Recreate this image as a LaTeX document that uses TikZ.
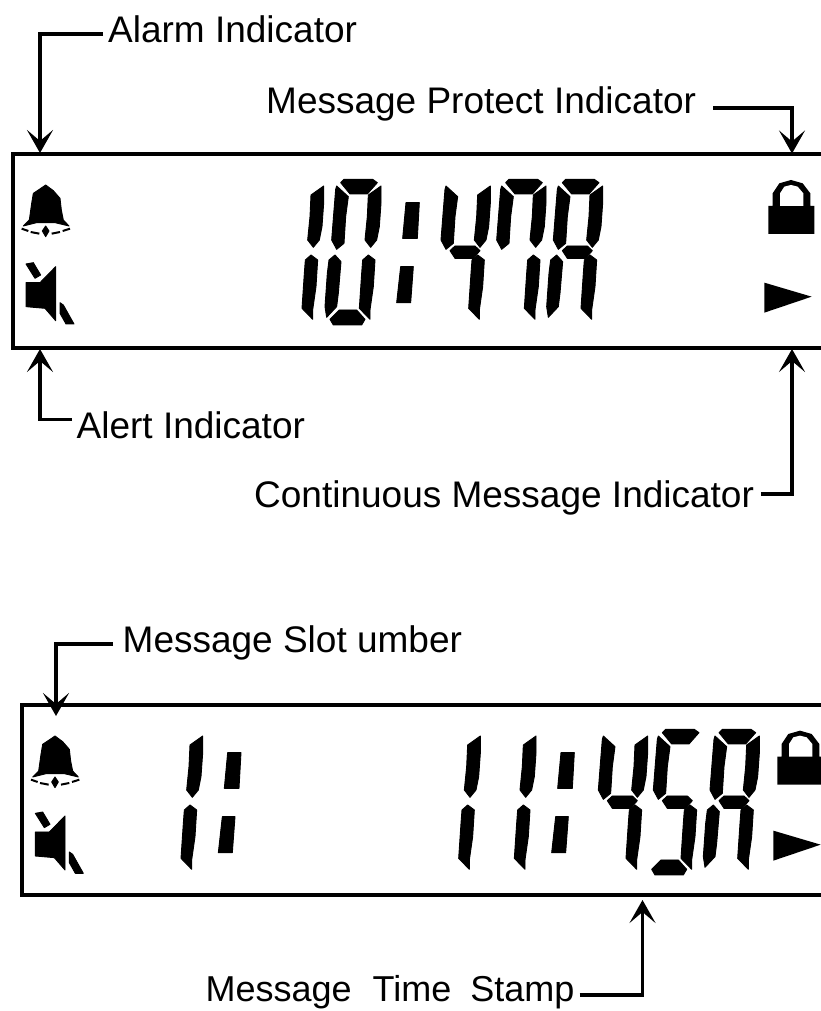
\documentclass[tikz,border=0pt]{standalone}
\usepackage{fontspec}
\setmainfont{Liberation Sans}
\usetikzlibrary{arrows.meta}
\tikzset{
  label text/.style={anchor=base west,inner sep=0pt,font=\fontsize{37}{40}\selectfont},
  conn/.style={line width=3.8pt,-{Stealth[length=23pt,width=26pt,inset=11pt]}},
  frame/.style={line width=4pt},
  lcd/.style={fill=black,draw=black,line width=0.9pt,line join=round}
}
% segment shapes, in units of a third of a pixel, relative to the digit origin
\newcommand\segul[1]{\filldraw[lcd,shift={#1}] (15,78)--(50,110)--(42,170)--(37,250)--(15,268)--(0,240)--(7,150)--(12,88)--cycle;}
\newcommand\segur[1]{\filldraw[lcd,shift={#1}] (148,78)--(148,130)--(143,200)--(135,240)--(117,262)--(100,240)--(107,170)--(110,105)--cycle;}
\newcommand\segtop[1]{\filldraw[lcd,shift={#1}] (27,68)--(37,58)--(123,58)--(137,68)--(107,102)--(55,102)--cycle;}
\newcommand\segmid[1]{\filldraw[lcd,shift={#1}] (27,272)--(42,258)--(102,258)--(117,272)--(97,295)--(42,295)--cycle;}
\newcommand\segll[1]{\filldraw[lcd,shift={#1}] (10,285)--(28,305)--(20,400)--(15,440)--(-15,472)--(-20,440)--(-13,340)--(-8,300)--cycle;}
\newcommand\seglr[1]{\filldraw[lcd,shift={#1}] (110,285)--(130,300)--(125,380)--(115,450)--(115,478)--(83,445)--(90,340)--(93,300)--cycle;}
\newcommand\segbot[1]{\filldraw[lcd,shift={#1}] (-5,478)--(23,450)--(75,450)--(100,478)--(90,495)--(5,495)--cycle;}
\newcommand\segcolon[1]{\filldraw[lcd,shift={#1}] (223,128)--(263,128)--(257,235)--(213,235)--cycle (207,320)--(245,320)--(237,428)--(195,428)--cycle;}
\newcommand\iconbell[1]{\begin{scope}[shift={#1}]
  \filldraw[lcd] (137,75)--(160,92)--(180,115)--(184,150)--(190,180)--(207,198)--(165,188)--(110,188)--(70,198)--(88,180)--(95,130)--(100,100)--(118,88)--cycle;
  \draw[line width=2pt] (65,206)--(85,213) (92,216)--(118,221) (155,221)--(180,216) (188,213)--(210,206);
  \filldraw[lcd] (137,198)--(147,213)--(137,230)--(127,213)--cycle;
\end{scope}}
\newcommand\iconspk[1]{\begin{scope}[shift={#1}]
  \filldraw[lcd] (78,312)--(100,308)--(122,345)--(105,355)--cycle;
  \filldraw[lcd] (78,368)--(120,368)--(167,320)--(167,482)--(135,445)--(78,440)--cycle;
  \filldraw[lcd] (180,428)--(190,435)--(222,492)--(198,492)--(180,460)--cycle;
\end{scope}}
\newcommand\iconlock[1]{\begin{scope}[shift={#1}]
  \fill[black] (142,138)--(155,138)--(155,100)--(175,70)--(210,60)--(245,70)--(268,100)--(268,138)--(280,138)--(280,222)--(142,222)--cycle;
  \fill[white] (177,138)--(177,100)--(190,80)--(210,75)--(230,80)--(247,100)--(247,138)--cycle;
\end{scope}}
\newcommand\icontri[1]{\fill[black,shift={#1}] (130,368)--(272,410)--(130,458)--cycle;}
\begin{document}
\begin{tikzpicture}[x=1pt,y=-1pt]
\useasboundingbox (0,0) rectangle (821,1011);
\fill[white] (0,0) rectangle (821,1011);
% frames
\draw[frame] (821,154) -- (12.7,154) -- (12.7,347.7) -- (821,347.7);
\draw[frame] (821,705) -- (21.7,705) -- (21.7,895) -- (821,895);
% LCD contents
\begin{scope}[x=0.33333pt,y=-0.33333pt]
  % upper display
  \segur{(823,480)}\seglr{(823,480)}
  \segtop{(995,480)}\segul{(995,480)}\segur{(995,480)}\segll{(995,480)}\seglr{(995,480)}\segbot{(995,480)}\segcolon{(995,480)}
  \segul{(1323,480)}\segur{(1323,480)}\segmid{(1323,480)}\seglr{(1323,480)}
  \segtop{(1490,480)}\segul{(1490,480)}\segur{(1490,480)}\seglr{(1490,480)}
  \segtop{(1660,480)}\segul{(1660,480)}\segur{(1660,480)}\segmid{(1660,480)}\segll{(1660,480)}\seglr{(1660,480)}
  \iconbell{(0,480)}\iconspk{(0,480)}\iconlock{(2163,480)}\icontri{(2163,480)}
  % lower display
  \segur{(460,2130)}\seglr{(460,2130)}\segcolon{(460,2130)}
  \segur{(1293,2130)}\seglr{(1293,2130)}
  \segur{(1460,2130)}\seglr{(1460,2130)}\segcolon{(1460,2130)}
  \segul{(1795,2130)}\segur{(1795,2130)}\segmid{(1795,2130)}\seglr{(1795,2130)}
  \segtop{(1960,2130)}\segul{(1960,2130)}\segmid{(1960,2130)}\seglr{(1960,2130)}\segbot{(1960,2130)}
  \segtop{(2130,2130)}\segul{(2130,2130)}\segur{(2130,2130)}\segmid{(2130,2130)}\segll{(2130,2130)}\seglr{(2130,2130)}
  \iconbell{(28,2133)}\iconspk{(28,2128)}\iconlock{(2190,2132)}\icontri{(2190,2124)}
\end{scope}
% labels
\node[label text] (alarm) at (108,43) {Alarm Indicator};
\node[label text] (protect) at (266,114) {Message Protect Indicator};
\node[label text] (alert) at (76.5,438) {Alert Indicator};
\node[label text] (cont) at (254,507) {Continuous Message Indicator};
\node[label text] (slot) at (122.5,652) {Message Slot umber};
\node[label text,font=\fontsize{36}{40}\selectfont] (stamp) at (205.5,1001) {Message\hspace{21pt}Time\hspace{19pt}Stamp};
% connector targets
\coordinate (alarmT) at (40,153);
\coordinate (protectT) at (792,153.5);
\coordinate (alertT) at (40,349);
\coordinate (contT) at (792,349);
\coordinate (slotT) at (56,716);
\coordinate (stampT) at (642.5,900);
% connectors
\draw[conn] (alarm.base west) ++(-5,-9) -| (alarmT);
\draw[conn] (protect.base east) ++(17,-6.3) -| (protectT);
\draw[conn] (alert.base west) ++(-4.5,-18.5) -| (alertT);
\draw[conn] (cont.base east) ++(6.7,-12.7) -| (contT);
\draw[conn] (slot.base west) ++(-9.5,-8) -| (slotT);
\draw[conn] (stamp.base east) ++(5,-6) -| (stampT);
\end{tikzpicture}
\end{document}
